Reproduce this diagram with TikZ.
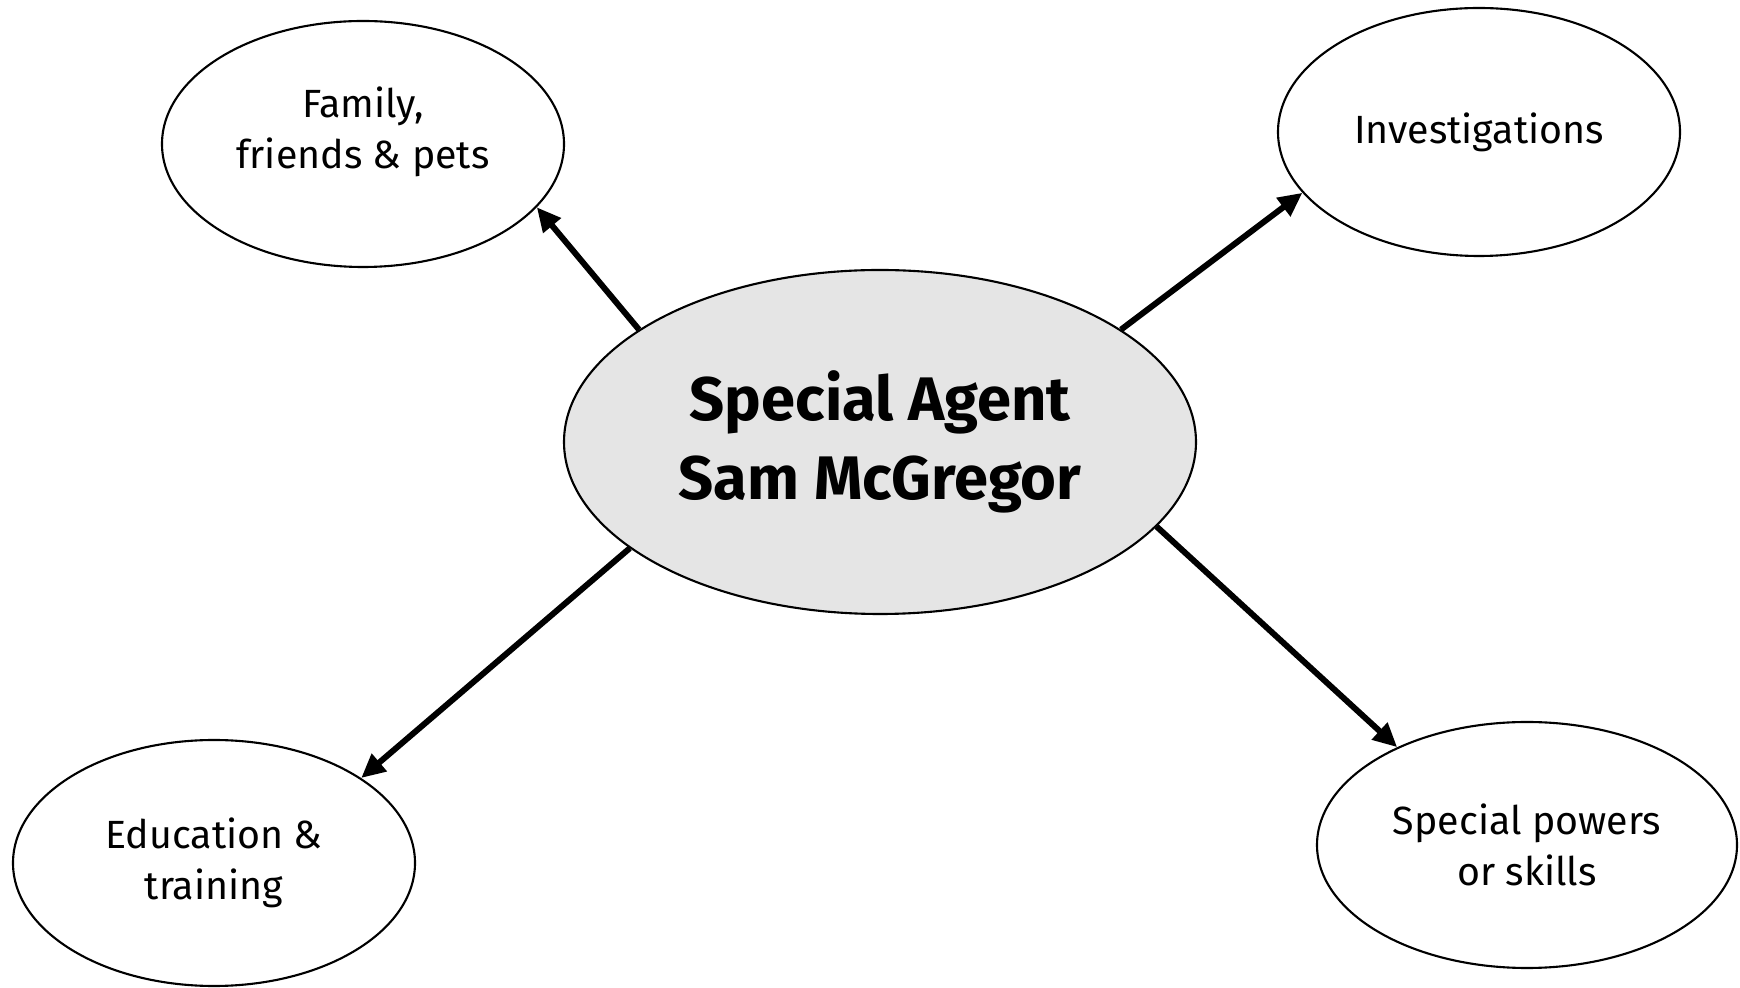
\documentclass[tikz,border=0pt]{standalone}
\usepackage{fontspec}
\setmainfont{Fira Sans}
\usetikzlibrary{shapes.geometric,arrows.meta}

\begin{document}
\begin{tikzpicture}[
	topic/.style={ellipse,draw,inner sep=0pt,line width=0.6pt,align=center,font=\fontsize{11.2}{14.5}\selectfont},
	agent/.style={ellipse,draw,inner sep=0pt,line width=0.6pt,fill=black!10,align=center,font=\bfseries\fontsize{17.5}{22.7}\selectfont},
	link/.style={line width=1.7pt,-{Triangle[length=0.24cm,width=0.22cm]}}]
	
	\useasboundingbox (0,0) rectangle (17.40,-9.88);
	
	\node[agent,minimum width=6.32cm,minimum height=3.44cm] (agent) at (8.80,-4.42) {Special Agent\\Sam McGregor};
	\node[topic,minimum width=4.02cm,minimum height=2.46cm,text depth=0.32cm] (family) at (3.63,-1.44) {Family,\\friends \& pets};
	\node[topic,minimum width=4.02cm,minimum height=2.48cm] (invest) at (14.79,-1.32) {Investigations};
	\node[topic,minimum width=4.02cm,minimum height=2.46cm] (edu) at (2.14,-8.63) {Education \&\\training};
	\node[topic,minimum width=4.20cm,minimum height=2.46cm] (powers) at (15.27,-8.45) {Special powers\\or skills};
	
	\draw[link] (agent.155) -- (family.-20);
	\draw[link] (agent.25) -- (invest.-161);
	\draw[link] (agent.203) -- (edu.30);
	\draw[link] (agent.-17) -- (powers.143);
	
\end{tikzpicture}
\end{document}
